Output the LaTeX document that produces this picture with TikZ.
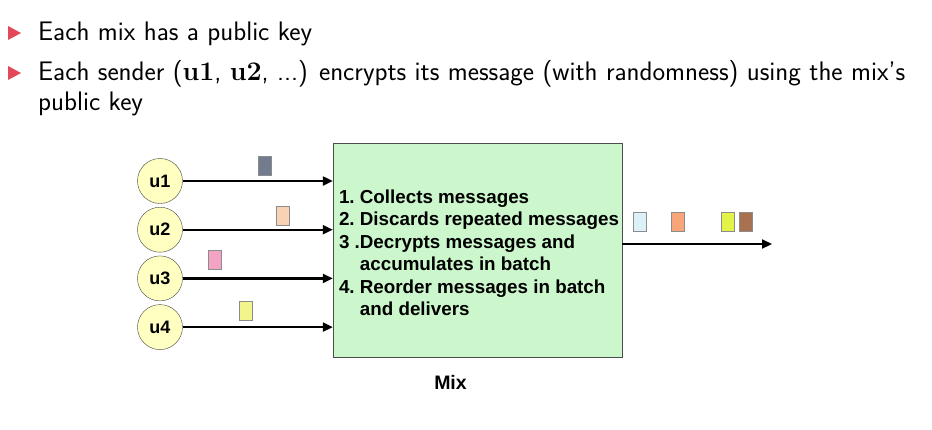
\documentclass[tikz,border=0pt]{standalone}
\usepackage{fontspec}
\usetikzlibrary{arrows.meta,positioning}
\newfontfamily\arialfont{Liberation Sans}
\definecolor{bulletRed}{HTML}{E2485A}
\definecolor{userYellow}{HTML}{FFFFC2}
\definecolor{mixGreen}{HTML}{CCF7CC}
\definecolor{msgSlate}{HTML}{737B8E}
\definecolor{msgPeach}{HTML}{F9D2B6}
\definecolor{msgPink}{HTML}{F4A3C4}
\definecolor{msgYellow}{HTML}{F2F58A}
\definecolor{msgIce}{HTML}{DDF1F8}
\definecolor{msgOrange}{HTML}{F8A57A}
\definecolor{msgLime}{HTML}{E2F246}
\definecolor{msgBrown}{HTML}{A8714F}

\begin{document}
\begin{tikzpicture}[x=1pt, y=-1pt,
    bullet/.style={anchor=base west, inner sep=0pt, font=\sffamily\fontsize{26.8}{30}\selectfont},
    user/.style={circle, draw=black!75, fill=userYellow, minimum size=45pt, inner sep=0pt, font=\arialfont\bfseries\fontsize{18}{20}\selectfont},
    mixbox/.style={draw=black!70, fill=mixGreen, minimum width=289pt, minimum height=214pt, inner sep=0pt},
    steptext/.style={align=left, inner sep=0pt, font=\arialfont\bfseries\fontsize{18.8}{22.5}\selectfont},
    msg/.style={draw=black!45, minimum width=13pt, minimum height=19pt, inner sep=0pt},
    arr/.style={-{Triangle[length=10pt,width=9pt]}, line width=2.2pt}
  ]
    \useasboundingbox (0,0) rectangle (932,429);
    % bullets
    \fill[bulletRed] (8,26) -- (21,33) -- (8,40) -- cycle;
    \fill[bulletRed] (8,66) -- (21,73) -- (8,80) -- cycle;
    \node[bullet] (b1) at (38,40) {Each mix has a public key};
    \node[bullet] (b2) at (38,80) {Each sender ({\rmfamily\bfseries u1}, {\rmfamily\bfseries u2}, ...) encrypts its message (with randomness) using the mix's};
    \node[bullet] (b3) at (38,110) {public key};
    % senders
    \node[user] (u1) at (160,181) {u1};
    \node[user, below=3.3pt of u1] (u2) {u2};
    \node[user, below=3.3pt of u2] (u3) {u3};
    \node[user, below=3.3pt of u3] (u4) {u4};
    % the mix
    \node[mixbox] (mix) at (477.5,250) {};
    \node[steptext, right=6pt of mix.west, yshift=-5pt] (steps) {%
      \begin{tabular}{@{}l@{}l@{}}
        1.\ & Collects messages\\
        2.\ & Discards repeated messages\\
        3 .& Decrypts messages and\\
           & accumulates in batch\\
        4.\ & Reorder messages in batch\\
            & and delivers
      \end{tabular}};
    \node[below=15pt of mix, xshift=-27pt, font=\arialfont\bfseries\fontsize{19.5}{21}\selectfont] (mixlabel) {Mix};
    \coordinate (out) at (772,244);
    \draw[arr] (u1) -- (u1 -| mix.west);
    \draw[arr] (u2) -- (u2 -| mix.west);
    \draw[arr] (u3) -- (u3 -| mix.west);
    \draw[arr] (u4) -- (u4 -| mix.west);
    \draw[arr] (mix.east |- out) -- (out);
    % messages in flight
    \node[msg, fill=msgSlate] (m1) at (264.5,165.5) {};
    \node[msg, fill=msgPeach] (m2) at (283,215.5) {};
    \node[msg, fill=msgPink] (m3) at (214.5,260) {};
    \node[msg, fill=msgYellow] (m4) at (245.5,310.5) {};
    \node[msg, fill=msgIce] (o1) at (640,222) {};
    \node[msg, fill=msgOrange] (o2) at (677.5,222) {};
    \node[msg, fill=msgLime] (o3) at (727.5,222) {};
    \node[msg, fill=msgBrown] (o4) at (746,222) {};
  \end{tikzpicture}
\end{document}
